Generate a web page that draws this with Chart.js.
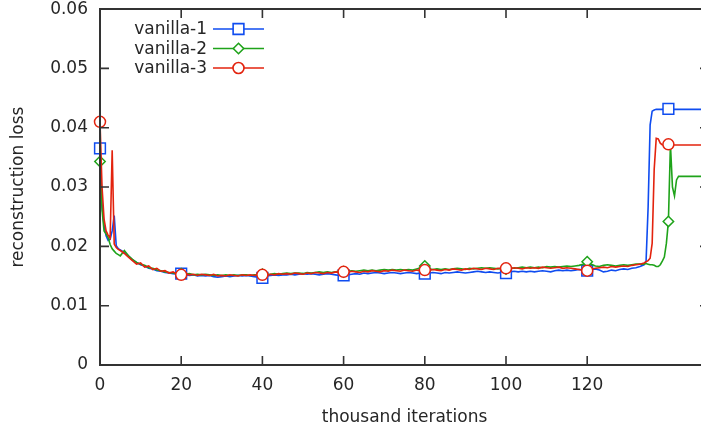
<!DOCTYPE html>
<html>
<head>
<meta charset="UTF-8">
<title>reconstruction loss</title>
<script src="https://cdn.jsdelivr.net/npm/chart.js@4.4.0/dist/chart.umd.min.js"></script>
<style>
  html, body { margin: 0; padding: 0; background: #fff; overflow: hidden; }
  #wrap { position: absolute; left: 0; top: 0; width: 701px; height: 430px; overflow: hidden; }
  #lossChart { display: block; }
</style>
</head>
<body>
<div id="wrap"><canvas id="lossChart" width="720" height="430"></canvas></div>
<script>
// x positions, thousand iterations
var iters = [
  0, 0.5, 1, 1.5, 2, 2.5, 3, 3.5, 4, 4.5, 5,
  6, 7, 8, 9, 10, 11, 12, 13, 14, 15,
  16, 17, 18, 19, 20, 21, 22, 23, 24, 25,
  26, 27, 28, 29, 30, 31, 32, 33, 34, 35,
  36, 37, 38, 39, 40, 41, 42, 43, 44, 45,
  46, 47, 48, 49, 50, 51, 52, 53, 54, 55,
  56, 57, 58, 59, 60, 61, 62, 63, 64, 65,
  66, 67, 68, 69, 70, 71, 72, 73, 74, 75,
  76, 77, 78, 79, 80, 81, 82, 83, 84, 85,
  86, 87, 88, 89, 90, 91, 92, 93, 94, 95,
  96, 97, 98, 99, 100, 101, 102, 103, 104, 105,
  106, 107, 108, 109, 110, 111, 112, 113, 114, 115,
  116, 117, 118, 119, 120, 121, 122, 123, 124, 125,
  126, 127, 128, 129, 130, 131, 132, 133,
  134, 134.5, 135, 135.5, 136, 136.5, 137, 137.5, 138, 138.5,
  139, 139.5, 140, 140.5, 141, 141.5, 142, 142.5, 143,
  144, 145, 146, 147, 148, 149, 150
];

var vanilla1 = [
  0.0365, 0.0270, 0.0235, 0.0218, 0.0210, 0.0212, 0.0226, 0.0252, 0.0201, 0.0196, 0.0194,
  0.0190, 0.0184, 0.0177, 0.0173, 0.0169, 0.0167, 0.0163, 0.0162, 0.0159, 0.0158,
  0.0156, 0.0155, 0.0154, 0.0153, 0.0154, 0.0152, 0.0151, 0.0152, 0.0150, 0.0151,
  0.0150, 0.0151, 0.0149, 0.0148, 0.0149, 0.0150, 0.0149, 0.0150, 0.0151, 0.0150,
  0.0151, 0.0150, 0.0149, 0.0148, 0.0147, 0.0150, 0.0151, 0.0152, 0.0151, 0.0152,
  0.0152, 0.0153, 0.0152, 0.0153, 0.0154, 0.0153, 0.0154, 0.0153, 0.0152, 0.0153,
  0.0154, 0.0153, 0.0152, 0.0151, 0.0151, 0.0152, 0.0153, 0.0154, 0.0153, 0.0155,
  0.0154, 0.0155, 0.0156, 0.0155, 0.0154, 0.0155, 0.0156, 0.0155, 0.0154, 0.0155,
  0.0156, 0.0155, 0.0154, 0.0155, 0.0154, 0.0155, 0.0156, 0.0155, 0.0154, 0.0156,
  0.0155, 0.0156, 0.0157, 0.0156, 0.0155, 0.0156, 0.0157, 0.0158, 0.0157, 0.0156,
  0.0157, 0.0156, 0.0155, 0.0156, 0.0155, 0.0157, 0.0158, 0.0157, 0.0158, 0.0157,
  0.0158, 0.0157, 0.0158, 0.0159, 0.0158, 0.0157, 0.0159, 0.0160, 0.0159, 0.0160,
  0.0159, 0.0160, 0.0161, 0.0160, 0.0159, 0.0161, 0.0162, 0.0160, 0.0157, 0.0158,
  0.0160, 0.0159, 0.0161, 0.0162, 0.0161, 0.0163, 0.0164, 0.0166,
  0.0169, 0.0175, 0.0265, 0.0405, 0.0428, 0.0430, 0.0431, 0.0431, 0.0431, 0.0431,
  0.0431, 0.0431, 0.0432, 0.0431, 0.0431, 0.0431, 0.0431, 0.0431, 0.0431,
  0.0431, 0.0431, 0.0431, 0.0431, 0.0431, 0.0431, 0.0431
];

var vanilla2 = [
  0.0343, 0.0262, 0.0226, 0.0221, 0.0215, 0.0203, 0.0196, 0.0192, 0.0188, 0.0186, 0.0184,
  0.0193, 0.0184, 0.0178, 0.0173, 0.0170, 0.0168, 0.0164, 0.0163, 0.0160, 0.0159,
  0.0157, 0.0156, 0.0155, 0.0154, 0.0154, 0.0153, 0.0154, 0.0152, 0.0153, 0.0152,
  0.0153, 0.0152, 0.0151, 0.0152, 0.0151, 0.0152, 0.0151, 0.0152, 0.0151, 0.0152,
  0.0152, 0.0151, 0.0152, 0.0152, 0.0153, 0.0152, 0.0153, 0.0154, 0.0153, 0.0154,
  0.0155, 0.0154, 0.0155, 0.0155, 0.0154, 0.0156, 0.0155, 0.0156, 0.0157, 0.0156,
  0.0157, 0.0156, 0.0157, 0.0158, 0.0157, 0.0158, 0.0159, 0.0158, 0.0159, 0.0160,
  0.0159, 0.0160, 0.0159, 0.0160, 0.0161, 0.0160, 0.0161, 0.0160, 0.0161, 0.0160,
  0.0161, 0.0160, 0.0162, 0.0164, 0.0167, 0.0162, 0.0161, 0.0162, 0.0161, 0.0162,
  0.0161, 0.0162, 0.0163, 0.0162, 0.0161, 0.0163, 0.0162, 0.0163, 0.0164, 0.0163,
  0.0164, 0.0163, 0.0162, 0.0163, 0.0162, 0.0164, 0.0163, 0.0164, 0.0165, 0.0164,
  0.0165, 0.0164, 0.0165, 0.0164, 0.0166, 0.0165, 0.0166, 0.0165, 0.0166, 0.0167,
  0.0166, 0.0167, 0.0168, 0.0170, 0.0174, 0.0170, 0.0167, 0.0166, 0.0168, 0.0169,
  0.0168, 0.0167, 0.0168, 0.0169, 0.0168, 0.0169, 0.0170, 0.0170,
  0.0170, 0.0171, 0.0170, 0.0169, 0.0169, 0.0168, 0.0166, 0.0166, 0.0169, 0.0175,
  0.0182, 0.0205, 0.0242, 0.0372, 0.0300, 0.0285, 0.0312, 0.0318, 0.0318,
  0.0318, 0.0318, 0.0318, 0.0318, 0.0318, 0.0318, 0.0318
];

var vanilla3 = [
  0.0410, 0.0300, 0.0246, 0.0226, 0.0219, 0.0214, 0.0362, 0.0204, 0.0198, 0.0195, 0.0193,
  0.0188, 0.0182, 0.0176, 0.0170, 0.0172, 0.0165, 0.0167, 0.0161, 0.0163, 0.0158,
  0.0159, 0.0155, 0.0157, 0.0153, 0.0152, 0.0154, 0.0152, 0.0153, 0.0151, 0.0153,
  0.0152, 0.0151, 0.0153, 0.0150, 0.0151, 0.0150, 0.0152, 0.0151, 0.0150, 0.0152,
  0.0151, 0.0152, 0.0151, 0.0153, 0.0152, 0.0151, 0.0153, 0.0152, 0.0154, 0.0153,
  0.0154, 0.0153, 0.0155, 0.0154, 0.0153, 0.0155, 0.0154, 0.0156, 0.0155, 0.0154,
  0.0156, 0.0155, 0.0157, 0.0156, 0.0157, 0.0156, 0.0158, 0.0157, 0.0156, 0.0158,
  0.0157, 0.0159, 0.0158, 0.0157, 0.0159, 0.0158, 0.0160, 0.0159, 0.0158, 0.0160,
  0.0159, 0.0158, 0.0160, 0.0159, 0.0160, 0.0159, 0.0161, 0.0160, 0.0159, 0.0161,
  0.0160, 0.0162, 0.0161, 0.0160, 0.0162, 0.0161, 0.0163, 0.0162, 0.0161, 0.0163,
  0.0162, 0.0161, 0.0163, 0.0162, 0.0163, 0.0162, 0.0164, 0.0163, 0.0162, 0.0164,
  0.0163, 0.0164, 0.0163, 0.0165, 0.0164, 0.0163, 0.0164, 0.0165, 0.0163, 0.0164,
  0.0163, 0.0162, 0.0161, 0.0160, 0.0159, 0.0161, 0.0163, 0.0164, 0.0165, 0.0164,
  0.0166, 0.0165, 0.0166, 0.0167, 0.0166, 0.0168, 0.0169, 0.0170,
  0.0172, 0.0174, 0.0176, 0.0180, 0.0205, 0.0330, 0.0382, 0.0381, 0.0374, 0.0371,
  0.0372, 0.0372, 0.0372, 0.0371, 0.0371, 0.0371, 0.0371, 0.0371, 0.0371,
  0.0371, 0.0371, 0.0371, 0.0371, 0.0371, 0.0371, 0.0371
];

var seriesNames = ['vanilla-1', 'vanilla-2', 'vanilla-3'];
var seriesColors = ['#0f4cf0', '#1fa31a', '#e3230e'];
var seriesMarkers = ['rect', 'rectRot', 'circle'];
var markerSizes = [7.6, 5.2, 5.5];
var markerEvery = 20;
var yTop = 0.06;

var textColor = '#262626';
var axisColor = '#333333';
var fontFamily = '"DejaVu Sans", sans-serif';

function toPoints(ys) {
  return ys.map(function (y, i) { return {x: iters[i], y: y}; });
}

function makeDataset(k, ys, order) {
  return {
    label: seriesNames[k],
    data: toPoints(ys),
    borderColor: seriesColors[k],
    borderWidth: 1.6,
    backgroundColor: '#ffffff',
    pointStyle: seriesMarkers[k],
    pointBorderColor: seriesColors[k],
    pointBackgroundColor: '#ffffff',
    pointBorderWidth: 1.5,
    pointRadius: function (ctx) {
      var x = iters[ctx.dataIndex];
      return (x % markerEvery === 0) ? markerSizes[k] : 0;
    },
    pointHoverRadius: 0,
    tension: 0,
    clip: false,
    order: order
  };
}

// key in the top left: label, then line sample with marker
function drawKey(ctx) {
  var textRight = 207, lineL = 213, lineR = 264, rowY = [29, 48.5, 68];
  ctx.save();
  ctx.font = '17px ' + fontFamily;
  ctx.textAlign = 'right';
  ctx.textBaseline = 'middle';
  for (var k = 0; k < seriesNames.length; k++) {
    var y = rowY[k];
    ctx.fillStyle = textColor;
    ctx.fillText(seriesNames[k], textRight, y + 1);
    ctx.strokeStyle = seriesColors[k];
    ctx.lineWidth = 1.6;
    ctx.beginPath();
    ctx.moveTo(lineL, y); ctx.lineTo(lineR, y);
    ctx.stroke();
    ctx.fillStyle = '#ffffff';
    Chart.helpers.drawPoint(ctx, {
      pointStyle: seriesMarkers[k],
      radius: markerSizes[k],
      rotation: 0,
      borderWidth: 1.5
    }, (lineL + lineR) / 2, y);
  }
  ctx.restore();
}

// gnuplot-like frame with inward ticks on all four sides
function drawFrame(chart) {
  var ctx = chart.ctx;
  var xs = chart.scales.x, ys = chart.scales.y;
  var left = xs.getPixelForValue(0), right = xs.getPixelForValue(150);
  var bottom = ys.getPixelForValue(0), top = ys.getPixelForValue(yTop);
  var tl = 9;
  ctx.save();
  ctx.strokeStyle = axisColor;
  ctx.lineWidth = 2;
  ctx.beginPath();
  ctx.moveTo(left, top); ctx.lineTo(right, top);
  ctx.lineTo(right, bottom); ctx.lineTo(left, bottom);
  ctx.closePath();
  ctx.stroke();
  ctx.lineWidth = 1.6;
  xs.ticks.forEach(function (t) {
    var px = xs.getPixelForValue(t.value);
    ctx.beginPath();
    ctx.moveTo(px, bottom); ctx.lineTo(px, bottom - tl);
    ctx.moveTo(px, top); ctx.lineTo(px, top + tl);
    ctx.stroke();
  });
  ys.ticks.forEach(function (t) {
    var py = ys.getPixelForValue(t.value);
    ctx.beginPath();
    ctx.moveTo(left, py); ctx.lineTo(left + tl, py);
    ctx.moveTo(right, py); ctx.lineTo(right - tl, py);
    ctx.stroke();
  });
  ctx.restore();
}

var overlayPlugin = {
  id: 'overlay',
  afterDraw: function (chart) {
    drawKey(chart.ctx);
    drawFrame(chart);
  }
};

var chart = new Chart(document.getElementById('lossChart'), {
  type: 'line',
  data: {
    datasets: [
      makeDataset(0, vanilla1, 2),
      makeDataset(1, vanilla2, 1),
      makeDataset(2, vanilla3, 0)
    ]
  },
  options: {
    responsive: false,
    animation: false,
    events: [],
    layout: { padding: { left: 0, top: 9, right: 11, bottom: 0 } },
    plugins: {
      legend: { display: false },
      tooltip: { enabled: false }
    },
    scales: {
      x: {
        type: 'linear',
        min: 0,
        max: 150,
        grid: { display: false, drawTicks: false },
        border: { display: false },
        afterBuildTicks: function (scale) {
          scale.ticks = scale.ticks.filter(function (t) { return t.value % 20 === 0; });
        },
        afterFit: function (scale) {
          scale.height = 65;
          scale.paddingLeft = 0;
          scale.paddingRight = 0;
        },
        ticks: {
          stepSize: 20,
          color: textColor,
          padding: 10,
          maxRotation: 0,
          font: { family: fontFamily, size: 17 }
        },
        title: {
          display: true,
          text: 'thousand iterations',
          color: textColor,
          padding: { top: 0, bottom: 2 },
          font: { family: fontFamily, size: 17 }
        }
      },
      y: {
        type: 'linear',
        min: 0,
        max: yTop,
        grid: { display: false, drawTicks: false },
        border: { display: false },
        afterFit: function (scale) {
          scale.width = 100;
          scale.paddingTop = 0;
          scale.paddingBottom = 0;
        },
        ticks: {
          stepSize: 0.01,
          color: textColor,
          padding: 12,
          font: { family: fontFamily, size: 17 },
          callback: function (v) { return v === 0 ? '0' : v.toFixed(2); }
        },
        title: {
          display: true,
          text: 'reconstruction loss',
          color: textColor,
          padding: { top: 8, bottom: 0 },
          font: { family: fontFamily, size: 17 }
        }
      }
    }
  },
  plugins: [overlayPlugin]
});
</script>
</body>
</html>
